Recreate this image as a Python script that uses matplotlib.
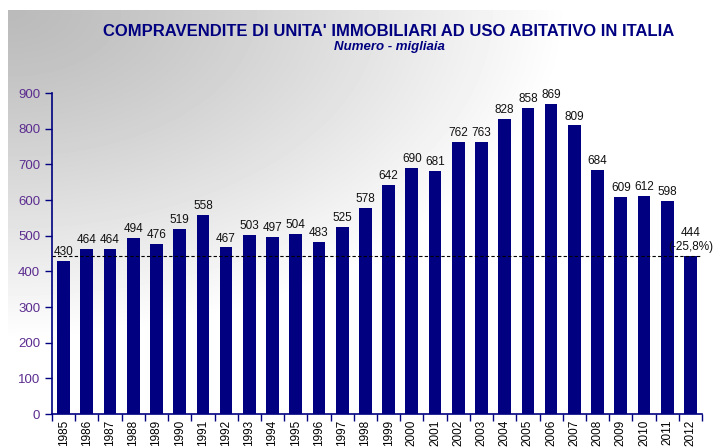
import matplotlib.pyplot as plt
import numpy as np

plt.rcParams['font.family'] = ['Liberation Sans', 'DejaVu Sans']

years = [str(y) for y in range(1985, 2013)]
values = [430, 464, 464, 494, 476, 519, 558, 467, 503, 497, 504, 483, 525, 578,
          642, 690, 681, 762, 763, 828, 858, 869, 809, 684, 609, 612, 598, 444]
labels = [str(v) for v in values]
labels[-1] = '444\n(-25,8%)'
ref_value = 444

navy = '#000080'
tick_col = '#5b2c8f'

fig = plt.figure(figsize=(7.16, 4.48), dpi=100)
fig.patch.set_facecolor('white')

# grey gradient background panel (top-left grey, fading to white)
bg = fig.add_axes([8 / 716, 0, 1 - 8 / 716, 1 - 10 / 448], zorder=0)
h, w = 438, 708
yy, xx = np.mgrid[0:h, 0:w]
t = np.sqrt((xx / 560.0) ** 2 + (yy / 330.0) ** 2)
t = np.clip(t, 0, 1) ** 1.2
grad = 0.73 + (1 - 0.73) * t
bg.imshow(grad, cmap='gray', vmin=0, vmax=1, aspect='auto', interpolation='bilinear')
bg.axis('off')

ax = fig.add_axes([52 / 716, 34 / 448, 650 / 716, 321 / 448], zorder=1)
ax.patch.set_alpha(0)

x = np.arange(len(values))
ax.bar(x, values, width=0.55, color=navy, zorder=2)
ax.axhline(ref_value, color='black', linestyle='--', linewidth=0.8, dashes=(3, 2), zorder=3)

for xi, v, lab in zip(x, values, labels):
    ax.text(xi, v + 8, lab, ha='center', va='bottom', fontsize=8.5, color='#111111')

ax.set_xlim(-0.5, len(values) - 0.5)
ax.set_ylim(0, 900)
ax.set_yticks(range(0, 901, 100))
ax.tick_params(axis='y', colors=navy, labelcolor=tick_col, labelsize=9.5, length=5, width=1)

ax.set_xticks(x)
ax.set_xticklabels(years, rotation=90, fontsize=8.5, color='black')
ax.set_xticks(np.arange(-0.5, len(values), 1), minor=True)
ax.tick_params(axis='x', which='major', length=0, pad=4)
ax.tick_params(axis='x', which='minor', length=5, color=navy, width=1)

for s in ['top', 'right']:
    ax.spines[s].set_visible(False)
for s in ['left', 'bottom']:
    ax.spines[s].set_color(navy)
    ax.spines[s].set_linewidth(1.2)

fig.text(389 / 716, 1 - 31 / 448, "COMPRAVENDITE DI UNITA' IMMOBILIARI AD USO ABITATIVO IN ITALIA",
         ha='center', va='center', fontsize=12.0, fontweight='bold', color=navy)
fig.text(389 / 716, 1 - 47 / 448, 'Numero - migliaia', ha='center', va='center',
         fontsize=9.5, fontweight='bold', fontstyle='italic', color=navy)

fig.savefig('out.png', dpi=100)
